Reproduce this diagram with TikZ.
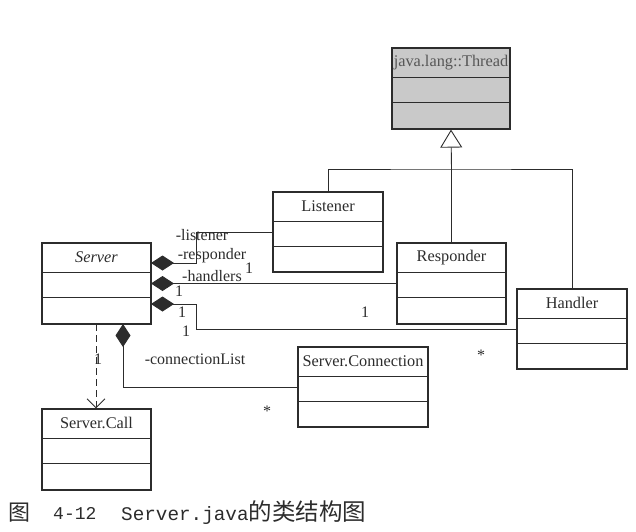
\documentclass[tikz,border=0pt]{standalone}
\usepackage{fontspec}
\setmainfont{Liberation Serif}
\newfontfamily\cjk{Noto Sans CJK SC}
\newfontfamily\capmono{Liberation Mono}
\usetikzlibrary{arrows.meta,calc}
\definecolor{ink}{HTML}{2C2C2C}
\definecolor{thr}{HTML}{C9C9C9}
\tikzset{
  cls/.style={draw=ink, line width=1.2pt, rectangle, inner sep=0pt},
  conn/.style={draw=ink, line width=0.9pt},
  comp/.style={conn, {Diamond[length=23pt,width=15pt,fill=ink]}-},
  lbl/.style={font=\fontsize{16}{16}\selectfont, text=ink, inner sep=0pt},
  title/.style={font=\fontsize{16.3}{17}\selectfont, text=ink, inner sep=0pt},
}
\newcommand{\umlbox}[6]{%
  % #1 name, #2 center, #3 width, #4 height, #5 label, #6 extra style
  \node[cls, minimum width=#3pt, minimum height=#4pt, #6] (#1) at (#2) {};
  \draw[ink, line width=1.2pt] ($(#1.north west)+(0,30)$) -- ($(#1.north east)+(0,30)$);
  \draw[ink, line width=1.2pt] ($(#1.north west)+(0,55)$) -- ($(#1.north east)+(0,55)$);
  \node[title] at ($(#1.north)+(0,15)$) {#5};
}
\begin{document}
\begin{tikzpicture}[x=1pt,y=-1pt]
\useasboundingbox (0,0) rectangle (636,531);
% classes
\umlbox{thread}{451,88.5}{118}{81}{\textcolor{ink!80}{java.lang::Thread}}{fill=thr}
\umlbox{listener}{328,232}{110}{80}{Listener}{}
\umlbox{responder}{451.5,283.5}{109}{81}{Responder}{}
\umlbox{handler}{572,329}{110}{80}{Handler}{}
\umlbox{server}{96.5,283.5}{109}{81}{\itshape Server}{}
\umlbox{sconn}{363,387}{130}{80}{Server.Connection}{}
\umlbox{call}{96.5,449.5}{109}{81}{Server.Call}{}
% generalization
\coordinate (gen) at (451.5,169);
\draw[conn] (listener.north) |- (gen) -| (handler.north);
\draw[conn] (responder.north) -- (gen);
\draw[conn, -{Triangle[open, length=18pt, width=22pt, fill=white]}] (gen) -- (thread.south);
% compositions
\coordinate (s1) at (151,263);
\coordinate (s2) at (151,283.5);
\coordinate (s3) at (151,304);
\coordinate (s4) at (123,324);
\coordinate (k1) at (196,263);
\coordinate (k3) at (196,304);
\draw[comp] (s1) -- (k1) |- (listener.west);
\draw[comp] (s2) -- (responder.west);
\draw[comp] (s3) -- (k3) |- (handler.west);
\draw[comp] (s4) |- (sconn.west);
% dependency
\coordinate (d0) at (96,324);
\draw[conn, dash pattern=on 7pt off 4pt, -{Straight Barb[length=9pt, width=18pt]}] (d0) -- (call.north -| d0);
% labels
\node[lbl] at (202,235) {-listener};
\node[lbl] at (212,256) {-responder};
\node[lbl] at (212,276) {-handlers};
\node[lbl] at (249,268) {1};
\node[lbl] at (179,291) {1};
\node[lbl] at (182,312) {1};
\node[lbl] at (186,331) {1};
\node[lbl] at (365,312) {1};
\node[lbl] at (481,355) {*};
\node[lbl] at (267,411) {*};
\node[lbl] at (195,359) {-connectionList};
\node[lbl] at (98,359) {1};
% caption
\node[anchor=west, inner sep=0pt, text=ink, font=\cjk\fontsize{22}{22}\selectfont] (c1) at (8,513) {图};
\node[anchor=west, inner sep=0pt, text=ink, font=\capmono\fontsize{18}{18}\selectfont] (c2) at (53,513) {4-12};
\node[anchor=west, inner sep=0pt, text=ink] (c3) at (121,513) {{\capmono\fontsize{19.3}{19}\selectfont Server.java}{\cjk\fontsize{23.5}{23.5}\selectfont 的类结构图}};
\end{tikzpicture}
\end{document}
